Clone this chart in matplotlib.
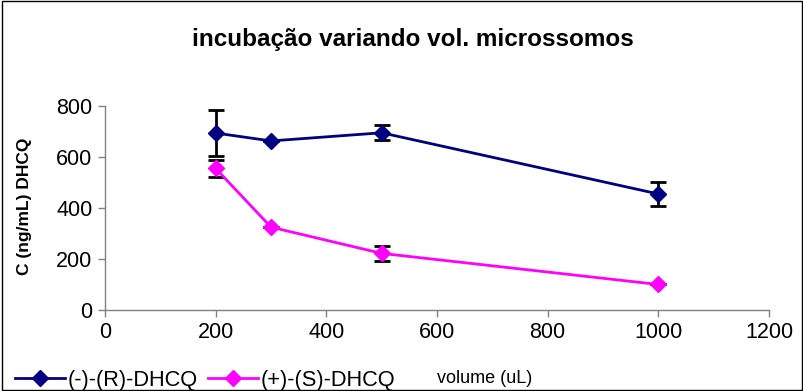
import matplotlib
matplotlib.use("Agg")
import matplotlib.pyplot as plt
from matplotlib.patches import Rectangle

plt.rcParams['font.family'] = ['Liberation Sans', 'DejaVu Sans']

volume = [200, 300, 500, 1000]
r_dhcq = [694, 663, 695, 455]
r_err = [90, 0, 30, 48]
s_dhcq = [555, 325, 222, 100]
s_err = [35, 0, 30, 0]

fig = plt.figure(figsize=(8.04, 3.91), dpi=100)
ax = fig.add_axes([0.1306, 0.2072, 0.8259, 0.5217])

ax.errorbar(volume, r_dhcq, yerr=r_err, color='#000080', marker='D', markersize=8,
            linewidth=2, ecolor='black', elinewidth=2, capsize=6, capthick=2,
            label='(-)-(R)-DHCQ', zorder=3)
ax.errorbar(volume, s_dhcq, yerr=s_err, color='#FF00FF', marker='D', markersize=8,
            linewidth=2, ecolor='black', elinewidth=2, capsize=6, capthick=2,
            label='(+)-(S)-DHCQ', zorder=3)

ax.set_xlim(0, 1200)
ax.set_ylim(0, 800)
ax.set_xticks(range(0, 1201, 200))
ax.set_yticks(range(0, 801, 200))
ax.tick_params(axis='both', labelsize=15.5, direction='out', length=5, width=1,
               color='#808080', pad=4)
for s in ['top', 'right']:
    ax.spines[s].set_visible(False)
for s in ['left', 'bottom']:
    ax.spines[s].set_linewidth(1)
    ax.spines[s].set_color('#808080')

fig.text(0.031, 0.473, 'C (ng/mL) DHCQ', rotation=90, ha='center', va='center',
         fontsize=12.5, fontweight='bold')
fig.text(0.514, 0.898, 'incubação variando vol. microssomos', ha='center', va='center',
         fontsize=17.5, fontweight='bold')
fig.text(0.603, 0.033, 'volume (uL)', ha='center', va='center', fontsize=13)

handles, labels = ax.get_legend_handles_labels()
handles = [h[0] for h in handles]
leg = fig.legend(handles, labels, loc='center left', bbox_to_anchor=(0.019, 0.028), ncol=2,
                 frameon=False, fontsize=15.7, handlelength=2.3, columnspacing=0.45,
                 handletextpad=0.12, borderaxespad=0.0, borderpad=0.0)

fig.patches.append(Rectangle((0.003, 0.003), 0.994, 0.994, transform=fig.transFigure,
                             fill=False, edgecolor='black', linewidth=1))

fig.savefig('out.png', dpi=100)
